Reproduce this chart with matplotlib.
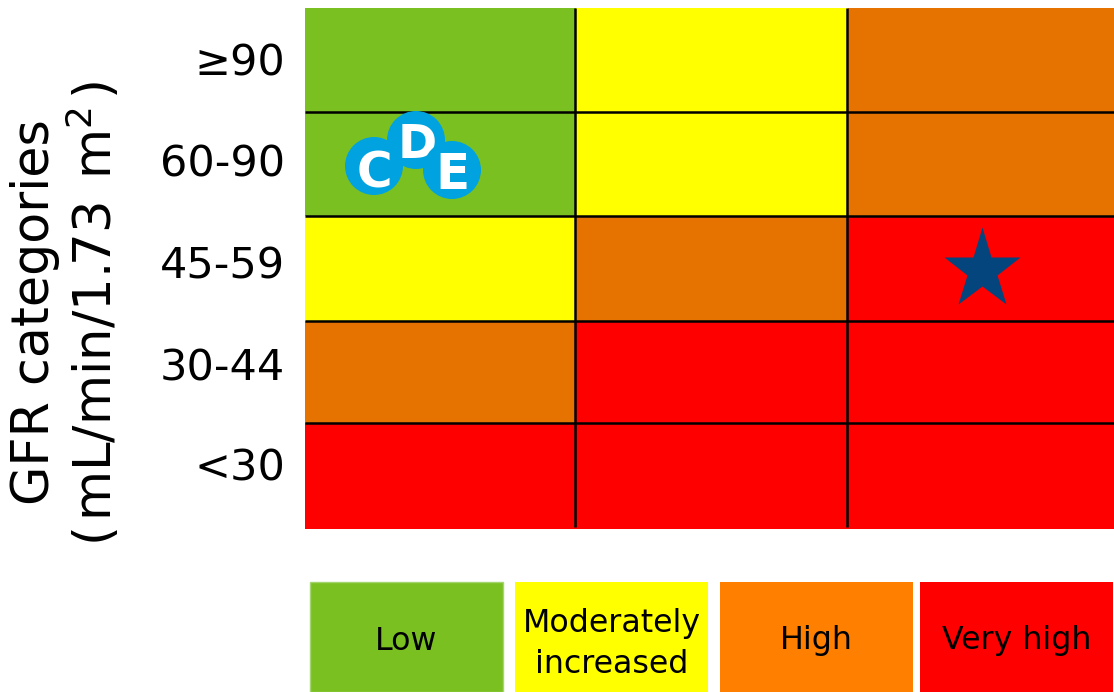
import matplotlib
matplotlib.use("Agg")
import matplotlib.pyplot as plt
import numpy as np
from matplotlib.colors import ListedColormap
from matplotlib.markers import MarkerStyle
from matplotlib.patches import Circle, Rectangle
from matplotlib.transforms import Affine2D

# risk level per cell: 0 low, 1 moderate, 2 high, 3 very high
gfr_labels = ["≥90", "60-90", "45-59", "30-44", "<30"]
risk = [
    [0, 1, 2],
    [0, 1, 2],
    [1, 2, 3],
    [2, 3, 3],
    [3, 3, 3],
]
cell_colors = ["#7AC021", "#FFFF00", "#E67300", "#FF0000"]

legend_labels = ["Low", "Moderately\nincreased", "High", "Very high"]
legend_colors = ["#7AC021", "#FFFF00", "#FF8000", "#FF0000"]
legend_edges = ["#A5D56E", "none", "none", "none"]

# layout in reference pixels
W, H = 1114, 692
x_edges = [305, 576, 848, 1114]
y_edges = [8, 112, 216, 321, 423, 529]
label_y = [59, 160, 262, 364, 464]
legend_x = [(310, 503), (515, 708), (720, 913), (920, 1113)]
legend_y = (582, 692)
legend_text_y = [641, 644, 641, 641]
# letter, circle x, circle y, letter x, letter y, letter size
badges = [
    ("C", 374, 166, 374, 168, 35),
    ("D", 416, 140, 417, 140, 34),
    ("E", 452, 170, 452, 170, 36),
]
star_pos = (982, 270)


def main():
    fig = plt.figure(figsize=(W / 100, H / 100), dpi=100)
    ax = fig.add_axes([0, 0, 1, 1])
    ax.set_xlim(0, W)
    ax.set_ylim(H, 0)
    ax.set_axis_off()

    cmap = ListedColormap(cell_colors)
    ax.pcolormesh(x_edges, y_edges, np.array(risk), cmap=cmap, vmin=-0.5, vmax=3.5)

    ax.hlines(y_edges[1:-1], x_edges[0], x_edges[-1], color="black", lw=1.8)
    ax.vlines(np.array(x_edges[1:-1]) - 1, y_edges[0], y_edges[-1] - 2, color="black", lw=1.8)

    # row labels
    for label, y in zip(gfr_labels, label_y):
        ax.text(285, y, label, ha="right", va="center_baseline", fontsize=31)

    ax.text(35, 312, "GFR categories", rotation=90, ha="center", va="center", fontsize=36.5)
    ax.text(94, 314, "(\u200amL/min/1.73\u200a m$^2$\u200a)", rotation=90, ha="center", va="center", fontsize=37)

    # C, D, E badges, each one covering the previous one
    for i, (letter, cx, cy, lx, ly, size) in enumerate(badges):
        ax.add_patch(Circle((cx, cy), 29, fc="#00A3E0", ec="none", zorder=3 + 2 * i))
        ax.text(lx, ly, letter, ha="center", va="center_baseline", color="white",
                fontsize=size, fontweight="bold", zorder=4 + 2 * i)

    star = MarkerStyle("*", transform=Affine2D().scale(1, 1.064))
    ax.plot(*star_pos, marker=star, ms=57.6, color="#03457C", mec="none", zorder=3)

    # legend boxes
    for (x0, x1), label, c, e, ty in zip(legend_x, legend_labels, legend_colors, legend_edges, legend_text_y):
        ax.add_patch(Rectangle((x0, legend_y[0]), x1 - x0, legend_y[1] - legend_y[0],
                               fc=c, ec=e, lw=1))
        ax.text((x0 + x1) / 2, ty, label, ha="center", va="center",
                fontsize=22.8, linespacing=1.38)

    plt.savefig("out.png", dpi=100)


if __name__ == "__main__":
    main()
